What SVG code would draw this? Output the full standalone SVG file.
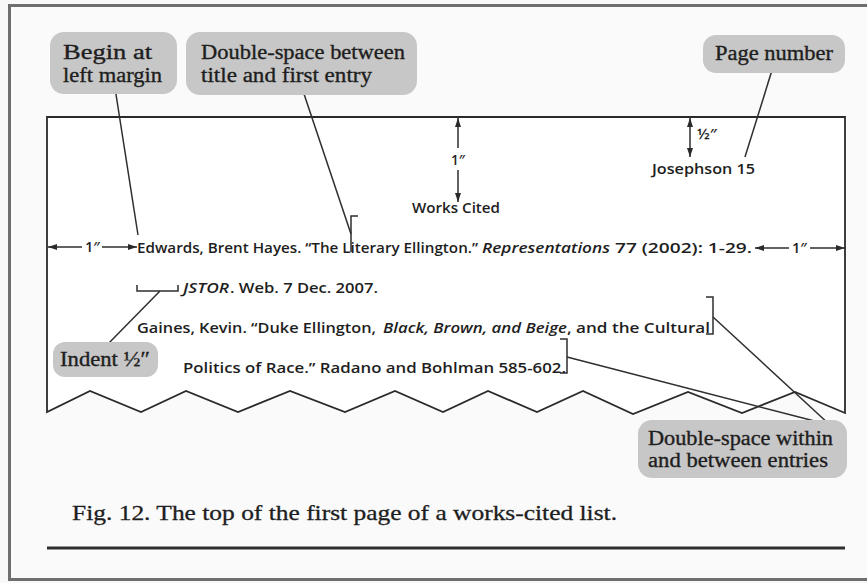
<svg xmlns="http://www.w3.org/2000/svg" width="867" height="583" viewBox="0 0 867 583">
<defs>
<marker id="ah" markerUnits="userSpaceOnUse" markerWidth="9" markerHeight="6" refX="9" refY="3" orient="auto-start-reverse">
<path d="M0,0 L9,3 L0,6 z" fill="#2a2a2a"/>
</marker>
</defs>
<style>
.box{fill:#c7c7c7;}
.ct{font-family:"Liberation Serif","Times New Roman",serif;font-size:20.5px;fill:#1e1e1e;stroke:#1e1e1e;stroke-width:0.35;}
.bt{font-family:"Open Sans","DejaVu Sans",sans-serif;font-size:15px;font-weight:600;fill:#1e1e1e;}
.it{font-style:italic;}
.ln{stroke:#2e2e2e;stroke-width:1.5;fill:none;}
.ar{stroke:#2e2e2e;stroke-width:1.5;fill:none;marker-end:url(#ah);}
.cap{font-family:"Liberation Serif","Times New Roman",serif;font-size:21px;fill:#1e1e1e;stroke:#1e1e1e;stroke-width:0.3;}
</style>
<rect x="0" y="0" width="867" height="583" fill="#f8f8f8"/>
<rect x="9.5" y="5.5" width="880" height="574" fill="#fafafa" stroke="#6e6e6e" stroke-width="3"/>

<g id="page">
<path d="M47,117 H845 V413 L795,392 L742,413 L688,392 L633,414 L583,391 L537,412 L488,391 L443,412 L395,391 L345,412 L290,391 L238,412 L186,391 L141,412 L90,391 L47,412 Z" fill="#ffffff" stroke="#2a2a2a" stroke-width="1.8"/>
</g>

<g id="connectors">
<line class="ln" x1="115" y1="88" x2="138" y2="235"/>
<line class="ln" x1="302" y1="88" x2="351" y2="234"/>
<line class="ln" x1="773" y1="67" x2="745" y2="157"/>
<line class="ln" x1="160" y1="291" x2="105" y2="347"/>
<line class="ln" x1="713" y1="317" x2="830" y2="425"/>
<line class="ln" x1="567" y1="357" x2="830" y2="425"/>
<path class="ln" d="M358,216 H351 V252"/>
<path class="ln" d="M137,285 V291 H178 V285"/>
<path class="ln" d="M706,297 H713 V334 H706"/>
<path class="ln" d="M560,339 H567 V373 H560"/>
<line class="ar" x1="458" y1="148" x2="458" y2="118"/>
<line class="ar" x1="458" y1="170" x2="458" y2="202"/>
<line class="ar" x1="690" y1="137" x2="690" y2="118"/>
<line class="ar" x1="690" y1="137" x2="690" y2="157"/>
<line class="ar" x1="82" y1="247" x2="48" y2="247"/>
<line class="ar" x1="102" y1="247" x2="137" y2="247"/>
<line class="ar" x1="789" y1="248" x2="755" y2="248"/>
<line class="ar" x1="810" y1="248" x2="845" y2="248"/>
</g>

<g id="callout-begin">
<rect class="box" x="50" y="32" width="127" height="62" rx="14"/>
<text class="ct" x="63" y="59" textLength="89" lengthAdjust="spacingAndGlyphs">Begin at</text>
<text class="ct" x="63" y="82" textLength="99" lengthAdjust="spacingAndGlyphs">left margin</text>
</g>

<g id="callout-double-title">
<rect class="box" x="186" y="32" width="231" height="63" rx="14"/>
<text class="ct" x="201" y="59" textLength="204" lengthAdjust="spacingAndGlyphs">Double-space between</text>
<text class="ct" x="201" y="82" textLength="171" lengthAdjust="spacingAndGlyphs">title and first entry</text>
</g>

<g id="callout-page-number">
<rect class="box" x="703" y="35" width="142" height="38" rx="13"/>
<text class="ct" x="715" y="60" textLength="118" lengthAdjust="spacingAndGlyphs">Page number</text>
</g>

<g id="callout-indent">
<rect class="box" x="53" y="342" width="105" height="35" rx="12"/>
<text class="ct" x="60" y="366" textLength="90" lengthAdjust="spacingAndGlyphs">Indent ½″</text>
</g>

<g id="callout-double-within">
<rect class="box" x="638" y="420" width="209" height="58" rx="14"/>
<text class="ct" x="648" y="445" textLength="185" lengthAdjust="spacingAndGlyphs">Double-space within</text>
<text class="ct" x="648" y="467" textLength="180" lengthAdjust="spacingAndGlyphs">and between entries</text>
</g>

<g id="measures">
<text class="bt" x="451" y="165" textLength="14" lengthAdjust="spacingAndGlyphs">1″</text>
<text class="bt" x="697" y="139" font-size="13" textLength="20" lengthAdjust="spacingAndGlyphs">½″</text>
<text class="bt" x="85" y="252" textLength="15" lengthAdjust="spacingAndGlyphs">1″</text>
<text class="bt" x="792" y="253" textLength="15" lengthAdjust="spacingAndGlyphs">1″</text>
</g>

<g id="page-text">
<text class="bt" x="652" y="174" textLength="103" lengthAdjust="spacingAndGlyphs">Josephson 15</text>
<text class="bt" x="412" y="213" textLength="88" lengthAdjust="spacingAndGlyphs">Works Cited</text>
<text class="bt" x="137" y="253" textLength="341" lengthAdjust="spacingAndGlyphs">Edwards, Brent Hayes. “The Literary Ellington.”</text>
<text class="bt it" x="482" y="253" textLength="128" lengthAdjust="spacingAndGlyphs">Representations</text>
<text class="bt" x="615" y="253" textLength="137" lengthAdjust="spacingAndGlyphs">77 (2002): 1-29.</text>
<text class="bt it" x="183" y="293" textLength="46" lengthAdjust="spacingAndGlyphs">JSTOR</text>
<text class="bt" x="230" y="293" textLength="148" lengthAdjust="spacingAndGlyphs">. Web. 7 Dec. 2007.</text>
<text class="bt" x="137" y="333" textLength="239" lengthAdjust="spacingAndGlyphs">Gaines, Kevin. “Duke Ellington,</text>
<text class="bt it" x="383" y="333" textLength="184" lengthAdjust="spacingAndGlyphs">Black, Brown, and Beige</text>
<text class="bt" x="567" y="333" textLength="143" lengthAdjust="spacingAndGlyphs">, and the Cultural</text>
<text class="bt" x="183" y="373" textLength="383" lengthAdjust="spacingAndGlyphs">Politics of Race.” Radano and Bohlman 585-602.</text>
</g>

<g id="caption">
<text class="cap" x="72" y="520" textLength="545" lengthAdjust="spacingAndGlyphs">Fig. 12. The top of the first page of a works-cited list.</text>
<line x1="47" y1="548" x2="845" y2="548" stroke="#2e2e2e" stroke-width="3"/>
</g>
</svg>
